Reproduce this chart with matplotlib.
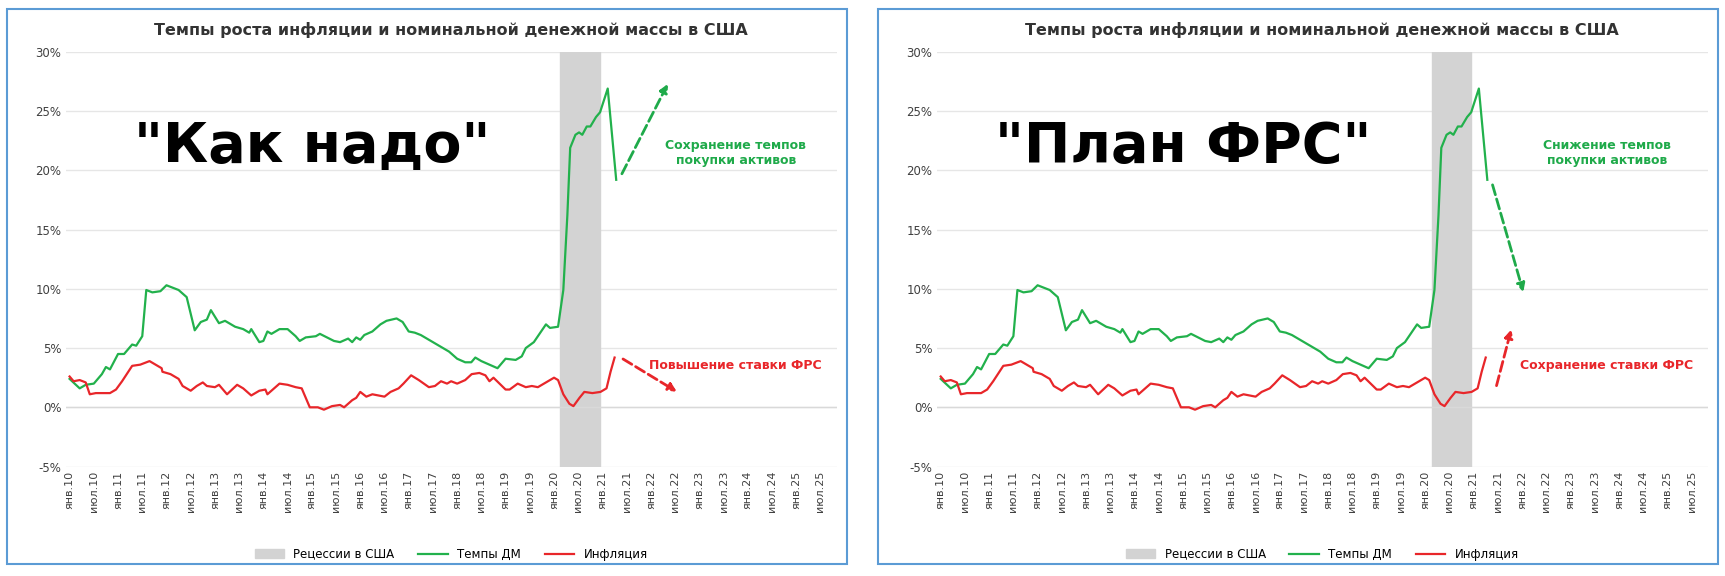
import numpy as np
import matplotlib.pyplot as plt
from matplotlib.patches import Rectangle

# months since Jan 2010
dm_months = [0, 2.5, 4, 6, 8, 9, 10, 12, 13.5, 15.5, 16.5, 18, 19, 20.5, 22.5, 24, 27, 29, 31, 32.5,
             34, 35, 37, 38.5, 41, 43, 44.5, 45, 47, 48, 49, 50, 52, 54, 56, 57, 58.5, 61, 62, 65.5,
             67, 69, 70, 71, 72, 73, 75, 77, 78.5, 81, 82.5, 84, 85.5, 87, 89, 92, 94, 96, 98, 99.5,
             100.5, 102, 104, 106, 108, 110.5, 112, 113, 115, 118, 119, 121, 122.3, 123.3, 124, 125.3,
             126.2, 127, 128.1, 129, 130.4, 131.4, 133.3, 135.4]
dm_values = [2.4, 1.6, 1.9, 2.0, 2.8, 3.4, 3.2, 4.5, 4.5, 5.3, 5.2, 6.0, 9.9, 9.7, 9.8, 10.3, 9.9, 9.3, 6.5, 7.2,
             7.4, 8.2, 7.1, 7.3, 6.8, 6.6, 6.3, 6.6, 5.5, 5.6, 6.4, 6.2, 6.6, 6.6, 6.0, 5.6, 5.9, 6.0, 6.2, 5.6,
             5.5, 5.8, 5.5, 5.9, 5.7, 6.1, 6.4, 7.0, 7.3, 7.5, 7.2, 6.4, 6.3, 6.1, 5.7, 5.1, 4.7, 4.1, 3.8, 3.8,
             4.2, 3.9, 3.6, 3.3, 4.1, 4.0, 4.3, 5.0, 5.5, 7.0, 6.7, 6.8, 9.9, 16.2, 21.9, 23.0,
             23.2, 23.0, 23.7, 23.7, 24.5, 24.9, 26.9, 19.2]

cpi_months = [0, 1, 2.5, 4, 5, 6.5, 8, 10, 11.5, 13, 15.5, 17.5, 19.8, 20.8, 22.8, 23, 25, 27, 28, 30,
              31.5, 33, 34, 36, 37, 39, 41.5, 43, 45, 47, 48.5, 49, 52, 54, 56, 57.5, 59.5, 61.5, 63, 65,
              67, 68, 70, 71, 72, 73.5, 75, 78, 79.5, 81.5, 82.7, 84.6, 86.5, 89, 90.5, 92, 93.5, 94.5, 96, 98,
              99.6, 101.5, 103, 104, 105, 108, 109, 111, 113, 114.5, 116, 118, 120, 121, 122.3, 123.8, 124.8,
              126.3, 127.5, 129.5, 131.5, 133, 134, 135]
cpi_values = [2.6, 2.2, 2.3, 2.1, 1.1, 1.2, 1.2, 1.2, 1.5, 2.2, 3.5, 3.6, 3.9, 3.7, 3.3, 3.0, 2.8, 2.4, 1.8, 1.4,
              1.8, 2.1, 1.8, 1.7, 1.9, 1.1, 1.9, 1.6, 1.0, 1.4, 1.5, 1.1, 2.0, 1.9, 1.7, 1.6, 0.0, 0.0, -0.2, 0.1,
              0.2, 0.0, 0.6, 0.8, 1.3, 0.9, 1.1, 0.9, 1.3, 1.6, 2.0, 2.7, 2.3, 1.7, 1.8, 2.2, 2.0, 2.2, 2.0, 2.3,
              2.8, 2.9, 2.7, 2.2, 2.5, 1.5, 1.5, 2.0, 1.7, 1.8, 1.7, 2.1, 2.5, 2.3, 1.1, 0.3, 0.1,
              0.8, 1.3, 1.2, 1.3, 1.6, 3.0, 4.2]

recession = (121.6, 131.3)
tick_labels = []
for yr in range(10, 26):
    tick_labels += [f"янв.{yr}", f"июл.{yr}"]
tick_pos = np.arange(len(tick_labels)) * 6

panels = [
    {"big": '"Как надо"',
     "green_text": "Сохранение темпов\nпокупки активов", "green_xy": (165, 21.5),
     "green_arrow": ((136.5, 19.5), (148.5, 27.5)),
     "red_text": "Повышение ставки ФРС", "red_xy": (165, 3.5),
     "red_arrow": ((136.5, 4.2), (151, 1.2))},
    {"big": '"План ФРС"',
     "green_text": "Снижение темпов\nпокупки активов", "green_xy": (165, 21.5),
     "green_arrow": ((136.5, 19.0), (144.5, 9.5)),
     "red_text": "Сохранение ставки ФРС", "red_xy": (165, 3.5),
     "red_arrow": ((137.5, 1.6), (141.5, 6.8))},
]

GREEN = "#22b14c"
RED = "#e8262a"
DGREEN = "#1faa4a"

fig = plt.figure(figsize=(17.25, 5.76), dpi=100)
plt.rcParams["font.family"] = "DejaVu Sans"

for i, p in enumerate(panels):
    x0 = i * 0.505
    fig.patches.append(Rectangle((x0 + 0.004, 0.02), 0.487, 0.965, transform=fig.transFigure,
                                 fill=False, edgecolor="#5b9bd5", linewidth=1.5))
    ax = fig.add_axes([x0 + 0.038, 0.19, 0.447, 0.72])
    ax.axvspan(*recession, color="#d3d3d3", zorder=1)
    ax.plot(dm_months, dm_values, color=GREEN, lw=1.6, zorder=3, label="Темпы ДМ")
    ax.plot(cpi_months, cpi_values, color=RED, lw=1.6, zorder=3, label="Инфляция")
    ax.set_xlim(-1, 190)
    ax.set_ylim(-5, 30)
    ax.set_yticks(range(-5, 31, 5))
    ax.set_yticklabels([f"{v}%" for v in range(-5, 31, 5)], fontsize=8.5, color="#404040")
    ax.set_xticks(tick_pos)
    ax.set_xticklabels(tick_labels, rotation=90, fontsize=8, color="#404040")
    ax.tick_params(length=0, pad=3)
    ax.spines[:].set_visible(False)
    ax.grid(axis="y", color="#e6e6e6", lw=1)
    ax.axhline(0, color="#d9d9d9", lw=1)
    ax.set_axisbelow(True)
    ax.text(0.5, 1.04, "Темпы роста инфляции и номинальной денежной массы в США", transform=ax.transAxes,
            ha="center", fontsize=11.5, fontweight="bold", color="#333333")
    ax.text(60, 22, p["big"], fontsize=40, fontweight="bold", ha="center", va="center", color="black")
    ax.text(*p["green_xy"], p["green_text"], color=DGREEN, fontsize=9, fontweight="bold", ha="center", va="center")
    ax.text(*p["red_xy"], p["red_text"], color=RED, fontsize=9, fontweight="bold", ha="center", va="center")
    (gs, ge), (rs, re_) = p["green_arrow"], p["red_arrow"]
    ax.annotate("", xy=ge, xytext=gs, arrowprops=dict(arrowstyle="-|>", color=DGREEN, lw=2, ls="--",
                                                      mutation_scale=12))
    ax.annotate("", xy=re_, xytext=rs, arrowprops=dict(arrowstyle="-|>", color=RED, lw=2, ls="--",
                                                       mutation_scale=12))
    handles = [Rectangle((0, 0), 1, 1, color="#d3d3d3")] + ax.get_lines()[:2]
    ax.legend(handles, ["Рецессии в США", "Темпы ДМ", "Инфляция"], loc="upper center",
              bbox_to_anchor=(0.5, -0.17), ncol=3, frameon=False, fontsize=8.5, handlelength=2.5)

fig.savefig("out.png", dpi=100)
